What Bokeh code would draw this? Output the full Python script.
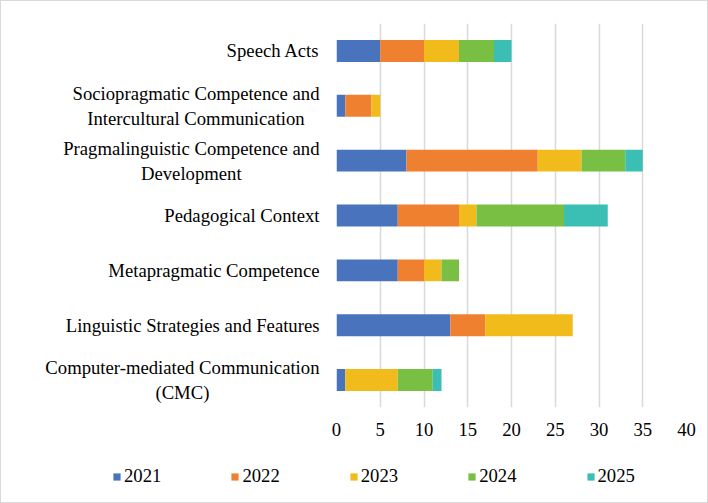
from bokeh.plotting import figure
from bokeh.layouts import column, row
from bokeh.models import Legend, LegendItem, FactorRange, Range1d, FixedTicker, ColumnDataSource
from bokeh.core.properties import value
from bokeh.embed import file_html
from bokeh.resources import INLINE

# Research themes, listed bottom to top
themes = [
    "Computer-mediated Communication\n(CMC)",
    "Linguistic Strategies and Features",
    "Metapragmatic Competence",
    "Pedagogical Context",
    "Pragmalinguistic Competence and\nDevelopment",
    "Sociopragmatic Competence and\nIntercultural Communication",
    "Speech Acts",
]
years = ["2021", "2022", "2023", "2024", "2025"]

# Number of studies per theme and year
y2021 = [1, 13, 7, 7, 8, 1, 5]
y2022 = [0, 4, 3, 7, 15, 3, 5]
y2023 = [6, 10, 2, 2, 5, 1, 4]
y2024 = [4, 0, 2, 10, 5, 0, 4]
y2025 = [1, 0, 0, 5, 2, 0, 2]

x_ticks = [0, 5, 10, 15, 20, 25, 30, 35, 40]
colors = ["#4a73bd", "#ef8030", "#f2bb1c", "#78bf44", "#3bbfb4"]

data = {"theme": themes, "2021": y2021, "2022": y2022, "2023": y2023,
        "2024": y2024, "2025": y2025}

FONT = "Liberation Serif"
FSIZE = "18.7px"
TOP, BOTTOM = 22, 44

y_range = FactorRange(factors=themes)

# Theme names: right-anchored blocks with centred lines
lab = figure(
    width=329, height=450, y_range=y_range, x_range=Range1d(0, 1),
    output_backend="svg", toolbar_location=None,
    min_border_left=0, min_border_right=0,
    min_border_top=TOP, min_border_bottom=BOTTOM,
)
lab.axis.visible = False
lab.grid.visible = False
lab.outline_line_color = None
lab.border_fill_color = "white"
lab.background_fill_color = "white"
lab.text(
    x=1, y="theme", text="theme", source=ColumnDataSource(data),
    x_offset=-11, anchor="center_right",
    text_align="center", text_baseline="middle",
    text_font=value(FONT), text_font_size=FSIZE, text_color="#000000",
    text_line_height=1.2,
)

# Stacked bars
p = figure(
    width=377, height=450,
    y_range=y_range, x_range=Range1d(0, 40),
    output_backend="svg", toolbar_location=None,
    min_border_left=6, min_border_right=21,
    min_border_top=TOP, min_border_bottom=BOTTOM,
)

p.hbar_stack(years, y="theme", height=0.4, color=colors,
             line_color=None, source=data)

p.outline_line_color = None
p.background_fill_color = "white"
p.border_fill_color = "white"

p.xgrid.grid_line_color = "#d9d9d9"
p.xgrid.grid_line_width = 1.5
p.ygrid.grid_line_color = None
p.yaxis.visible = False

p.xaxis.ticker = FixedTicker(ticks=x_ticks)
p.xaxis.axis_line_color = None
p.xaxis.major_tick_line_color = None
p.xaxis.minor_tick_line_color = None
p.xaxis.major_label_standoff = 9
p.xaxis.major_label_text_font = FONT
p.xaxis.major_label_text_font_size = FSIZE
p.xaxis.major_label_text_color = "#000000"

# Legend strip underneath the chart; its hidden bars only feed the swatches
leg = figure(
    width=706, height=51,
    x_range=Range1d(0, 40), y_range=FactorRange(factors=themes),
    output_backend="svg", toolbar_location=None, min_border=0,
)
leg.axis.visible = False
leg.grid.visible = False
leg.outline_line_color = None
leg.border_fill_color = "white"
leg.background_fill_color = "white"

swatches = leg.hbar_stack(years, y="theme", height=0.4, color=colors,
                          line_color=None, source=data)
for r in swatches:
    r.visible = False

legend = Legend(
    items=[LegendItem(label=yr, renderers=[r]) for yr, r in zip(years, swatches)],
    orientation="horizontal",
    location=(111, 15),
    glyph_width=9, glyph_height=9,
    label_standoff=3, spacing=69,
    label_text_font=FONT, label_text_font_size=FSIZE,
    label_text_color="#000000",
    border_line_color=None, background_fill_alpha=0,
    inactive_fill_alpha=0,
    padding=0, margin=0,
)
leg.add_layout(legend, "center")

layout = column(row(lab, p, spacing=0), row(leg), spacing=0)
layout.styles = {"border": "1px solid #d9d9d9", "background-color": "white"}

open("out.html", "w").write(file_html(layout, INLINE))
